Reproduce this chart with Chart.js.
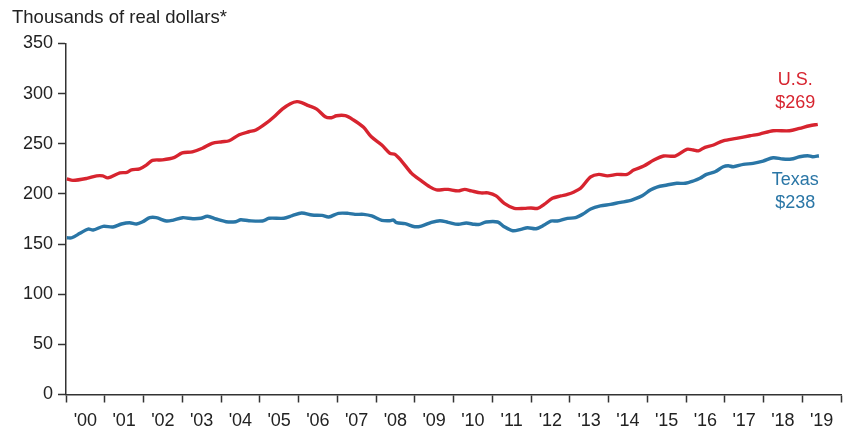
<!DOCTYPE html>
<html>
<head>
<meta charset="utf-8">
<script src="https://cdn.jsdelivr.net/npm/chart.js@4"></script>
<style>
  html, body { margin: 0; padding: 0; background: #fff; }
  #wrap { width: 849px; height: 432px; position: relative; }
</style>
</head>
<body>
<div id="wrap"><canvas id="priceChart" width="849" height="432"></canvas></div>
<script>
// ===============================
// DATA (thousands of real dollars)
// ===============================
const usYears = [2000.02, 2000.18, 2000.54, 2000.79, 2000.95, 2001.08, 2001.39, 2001.57, 2001.69, 2001.90,
  2002.08, 2002.23, 2002.49, 2002.80, 2003.00, 2003.26, 2003.52, 2003.77, 2004.03, 2004.21,
  2004.47, 2004.72, 2004.90, 2005.15, 2005.37, 2005.58, 2005.79, 2005.96, 2006.08, 2006.26,
  2006.47, 2006.69, 2006.85, 2006.98, 2007.21, 2007.42, 2007.68, 2007.88, 2008.15, 2008.36,
  2008.49, 2008.66, 2008.92, 2009.17, 2009.39, 2009.56, 2009.77, 2009.86, 2010.12, 2010.29,
  2010.46, 2010.71, 2010.89, 2011.10, 2011.31, 2011.57, 2011.83, 2012.00, 2012.17, 2012.34,
  2012.55, 2012.77, 2012.94, 2013.11, 2013.28, 2013.54, 2013.75, 2013.97, 2014.22, 2014.48,
  2014.65, 2014.91, 2015.17, 2015.42, 2015.72, 2016.02, 2016.19, 2016.32, 2016.49, 2016.71,
  2016.96, 2017.30, 2017.65, 2017.90, 2018.25, 2018.67, 2018.93, 2019.19, 2019.40];
const usValues = [215, 213.5, 215.5, 218, 218, 216, 221, 221.5, 224, 225,
  229, 233.5, 234, 236.5, 241, 242, 245.5, 250.5, 252, 253,
  259, 262, 263.7, 270, 277, 284.6, 290, 292, 291, 288,
  284.6, 277, 276, 278, 278, 273.7, 266.4, 257, 248.8, 240.5,
  239.5, 232.8, 220.5, 213, 207, 204, 204.5, 204.5, 203, 204.5,
  203, 201, 201, 198, 190.6, 185.6, 185.6, 186, 185.6, 189.6,
  195.6, 198, 199.6, 202, 205.6, 217, 219.5, 218, 219.5, 219.5,
  223.8, 227.8, 233.8, 237.8, 237.8, 244.5, 243.8, 243, 246.5, 248.8,
  253, 255.4, 258, 259.7, 263, 263, 265.4, 268, 269.4];

const txYears = [2000.02, 2000.15, 2000.36, 2000.57, 2000.70, 2000.96, 2001.21, 2001.43, 2001.64, 2001.82,
  2001.98, 2002.16, 2002.33, 2002.59, 2002.75, 2003.01, 2003.27, 2003.48, 2003.65, 2003.87,
  2004.13, 2004.38, 2004.51, 2004.72, 2005.07, 2005.24, 2005.62, 2005.84, 2006.08, 2006.35,
  2006.61, 2006.78, 2007.03, 2007.29, 2007.46, 2007.68, 2007.89, 2008.15, 2008.36, 2008.45,
  2008.53, 2008.75, 2009.00, 2009.17, 2009.43, 2009.65, 2009.86, 2010.12, 2010.33, 2010.54,
  2010.67, 2010.84, 2011.14, 2011.31, 2011.53, 2011.74, 2011.91, 2012.13, 2012.34, 2012.51,
  2012.68, 2012.94, 2013.15, 2013.37, 2013.54, 2013.79, 2014.05, 2014.31, 2014.52, 2014.65,
  2014.87, 2015.08, 2015.25, 2015.51, 2015.76, 2015.98, 2016.19, 2016.36, 2016.53, 2016.75,
  2016.96, 2017.09, 2017.22, 2017.48, 2017.73, 2017.99, 2018.25, 2018.50, 2018.72, 2018.93,
  2019.14, 2019.27, 2019.43];
const txValues = [156.3, 156.3, 160.7, 165, 164, 167.7, 167, 170, 171.3, 170,
  172.3, 176.3, 176.3, 173, 173.7, 176.3, 175.3, 175.7, 177.7, 175,
  172.3, 172.3, 174.3, 173.3, 173, 175.7, 175.7, 178.3, 181, 179,
  178.6, 177, 180.6, 180.6, 179.6, 179.6, 178, 173.7, 173.3, 174,
  171.3, 170.3, 167.3, 168, 171.7, 173.3, 171.7, 169.7, 171, 169.7,
  169.7, 172, 172, 167.3, 163.3, 164.7, 166.3, 165.3, 169, 173,
  173, 175.7, 176.3, 180.6, 185, 188, 189.6, 191.6, 193, 194.6,
  198.2, 203.9, 206.9, 208.9, 210.6, 210.6, 212.9, 215.6, 219.5, 222.1,
  227.1, 228.1, 227.1, 229.5, 230.5, 232.8, 236.1, 234.8, 234.8, 237.1,
  238.1, 237.1, 238.1];

const yTicks = [0, 50, 100, 150, 200, 250, 300, 350];
const yearLabels = ["'00", "'01", "'02", "'03", "'04", "'05", "'06", "'07", "'08", "'09",
  "'10", "'11", "'12", "'13", "'14", "'15", "'16", "'17", "'18", "'19"];

const RED = '#d7242f';
const BLUE = '#2a76a6';
const AXIS = '#333333';
const FONT = '"Liberation Sans", Arial, Helvetica, sans-serif';

const toPoints = (xs, ys) => xs.map((x, i) => ({ x: x, y: ys[i] }));

// titre + étiquettes des séries
const labelsPlugin = {
  id: 'labels',
  afterDraw(chart) {
    const { ctx, scales } = chart;
    ctx.save();
    ctx.font = '18.5px ' + FONT;
    ctx.fillStyle = '#222';
    ctx.textAlign = 'left';
    ctx.textBaseline = 'alphabetic';
    ctx.fillText('Thousands of real dollars*', 12, 23);

    ctx.font = '18px ' + FONT;
    ctx.textAlign = 'center';
    ctx.textBaseline = 'middle';
    const lx = scales.x.getPixelForValue(2018.82);
    ctx.fillStyle = RED;
    ctx.fillText('U.S.', lx, scales.y.getPixelForValue(313.5));
    ctx.fillText('$269', lx, scales.y.getPixelForValue(290.6));
    ctx.fillStyle = BLUE;
    ctx.fillText('Texas', lx, scales.y.getPixelForValue(213.8));
    ctx.fillText('$238', lx, scales.y.getPixelForValue(190.9));
    ctx.restore();
  }
};

const canvas = document.getElementById('priceChart');
const chartInstance = new Chart(canvas, {
  type: 'line',
  data: {
    datasets: [{
      label: 'U.S.',
      data: toPoints(usYears, usValues),
      borderColor: RED,
      borderWidth: 3.4,
      pointRadius: 0,
      tension: 0.3,
      fill: false
    }, {
      label: 'Texas',
      data: toPoints(txYears, txValues),
      borderColor: BLUE,
      borderWidth: 3.4,
      pointRadius: 0,
      tension: 0.3,
      fill: false
    }]
  },
  options: {
    responsive: false,
    animation: false,
    devicePixelRatio: 1,
    layout: { padding: { top: 43.5, right: 4, left: 0, bottom: 0 } },
    plugins: {
      legend: { display: false },
      tooltip: { enabled: false },
      title: { display: false }
    },
    scales: {
      x: {
        type: 'linear',
        min: 2000,
        max: 2020,
        afterFit: (scale) => { scale.height = 37.5; },
        afterBuildTicks: (scale) => {
          const ticks = [];
          for (let i = 0; i <= yearLabels.length; i++) {
            ticks.push({ value: 2000 + i });
            if (i < yearLabels.length) ticks.push({ value: 2000 + i + 0.5 });
          }
          scale.ticks = ticks;
        },
        ticks: {
          autoSkip: false,
          maxRotation: 0,
          padding: 8,
          color: '#222',
          font: { family: FONT, size: 18 },
          callback: (value) => {
            const i = Math.floor(value) - 2000;
            return (value % 1 !== 0 && yearLabels[i]) ? yearLabels[i] : '';
          }
        },
        grid: {
          drawOnChartArea: false,
          drawTicks: true,
          tickLength: 8,
          tickWidth: 1.5,
          tickColor: (ctx) => (ctx.tick && ctx.tick.value % 1 !== 0) ? 'rgba(0,0,0,0)' : AXIS
        },
        border: { display: true, color: AXIS, width: 1.5 }
      },
      y: {
        min: 0,
        max: 350,
        afterFit: (scale) => { scale.width = 66; },
        afterBuildTicks: (scale) => { scale.ticks = yTicks.map(v => ({ value: v })); },
        ticks: {
          padding: 5,
          color: '#222',
          font: { family: FONT, size: 18 }
        },
        grid: {
          drawOnChartArea: false,
          tickLength: 8,
          tickWidth: 1.5,
          tickColor: AXIS
        },
        border: { display: true, color: AXIS, width: 1.5 }
      }
    }
  },
  plugins: [labelsPlugin]
});
</script>
</body>
</html>
